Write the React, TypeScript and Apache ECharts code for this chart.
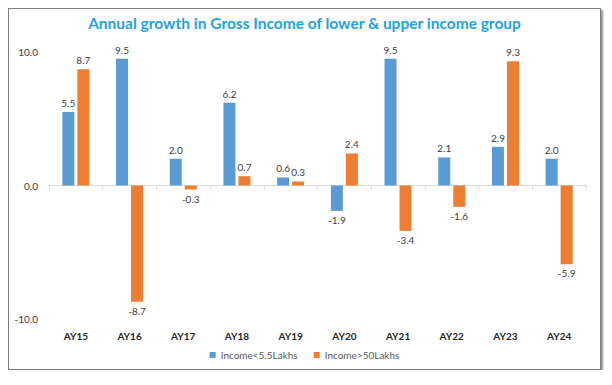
import React, { useEffect, useRef } from "react";
import * as echarts from "echarts";

const categories = ["AY15", "AY16", "AY17", "AY18", "AY19", "AY20", "AY21", "AY22", "AY23", "AY24"];
const lowerIncome = [5.5, 9.5, 2.0, 6.2, 0.6, -1.9, 9.5, 2.1, 2.9, 2.0];
const upperIncome = [8.7, -8.7, -0.3, 0.7, 0.3, 2.4, -3.4, -1.6, 9.3, -5.9];
const seriesNames = ["Income<5.5Lakhs", "Income>50Lakhs"];
const titleText = "Annual growth in Gross Income of lower & upper income group";

const FONT = "Lato, 'Open Sans', sans-serif";

function toItems(values: number[]) {
  return values.map((v) => ({
    value: v,
    label: { position: v < 0 ? "bottom" : "top" },
  }));
}

export default function App() {
  const ref = useRef<HTMLDivElement>(null);
  useEffect(() => {
    if (!ref.current) return;
    const chart = echarts.init(ref.current, undefined, { renderer: "svg" });
    const labelCfg = {
      show: true,
      fontSize: 10,
      color: "#404040",
      fontFamily: FONT,
      distance: 4,
      formatter: (p: any) => Number(p.value).toFixed(1),
    };
    chart.setOption({
      animation: false,
      textStyle: { fontFamily: FONT },
      title: {
        text: titleText,
        left: "center",
        top: 1,
        textStyle: { fontSize: 15.5, fontWeight: "bold", color: "#1FA2E0", fontFamily: FONT },
      },
      legend: {
        data: seriesNames,
        bottom: 4,
        left: "center",
        icon: "rect",
        itemWidth: 6,
        itemHeight: 6,
        itemGap: 16,
        textStyle: { fontSize: 10, color: "#595959", fontFamily: FONT },
      },
      grid: { left: 40, right: 14, top: 43, bottom: 50 },
      xAxis: [
        {
          type: "category",
          data: categories,
          axisLine: { show: true, onZero: true, lineStyle: { color: "#D9D9D9" } },
          axisTick: { show: true, length: 4, lineStyle: { color: "#D9D9D9" } },
          axisLabel: { show: false },
        },
        {
          type: "category",
          data: categories,
          position: "bottom",
          axisLine: { show: false, onZero: false },
          axisTick: { show: false },
          axisLabel: {
            show: true,
            margin: 12,
            fontSize: 10,
            fontWeight: "bold",
            color: "#262626",
            fontFamily: FONT,
          },
        },
      ],
      yAxis: {
        type: "value",
        min: -10,
        max: 10,
        interval: 10,
        axisLine: { show: false },
        axisTick: { show: false },
        splitLine: { show: false },
        axisLabel: {
          margin: 11,
          fontSize: 10,
          color: "#404040",
          fontFamily: FONT,
          formatter: (v: number) => v.toFixed(1),
        },
      },
      series: [
        {
          name: seriesNames[0],
          type: "bar",
          xAxisIndex: 0,
          data: toItems(lowerIncome),
          barWidth: 12,
          barGap: "25%",
          itemStyle: { color: "#5B9BD5" },
          label: labelCfg,
        },
        {
          name: seriesNames[1],
          type: "bar",
          xAxisIndex: 0,
          data: toItems(upperIncome),
          barWidth: 12,
          barGap: "25%",
          itemStyle: { color: "#ED7D31" },
          label: labelCfg,
        },
      ],
    });
    return () => chart.dispose();
  }, []);
  return (
    <div
      style={{
        width: 591,
        height: 360,
        border: "1px solid #7F7F7F",
        boxShadow: "2px 2px 2px rgba(0,0,0,0.45)",
        background: "#fff",
      }}
    >
      <div ref={ref} style={{ width: 591, height: 360 }} />
    </div>
  );
}
